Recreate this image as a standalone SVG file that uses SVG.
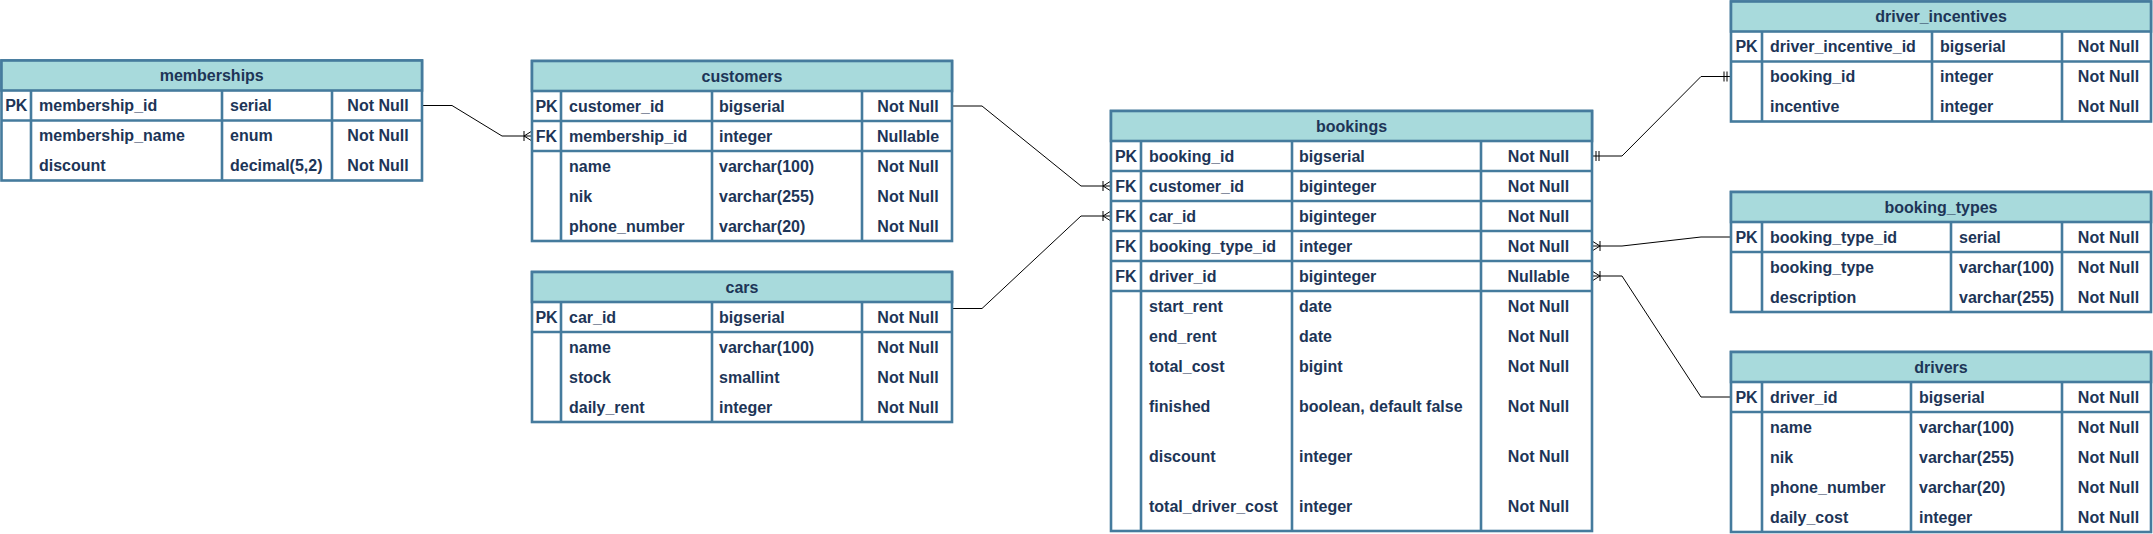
<svg xmlns="http://www.w3.org/2000/svg" width="2153" height="534" viewBox="0 0 2153 534">
<style>
.box{fill:#FFFFFF;stroke:#457B9D;stroke-width:2.6}
.hdr{fill:#A8DADC;stroke:#457B9D;stroke-width:2.6}
.ln{stroke:#457B9D;stroke-width:2.6;fill:none}
text{font-family:"Liberation Sans",Arial,sans-serif;font-weight:bold;font-size:16px;fill:#1D3557}
.c{text-anchor:middle}
.edge{fill:none;stroke:#000000;stroke-width:1}
</style>
<defs>
<marker id="oneMany" markerUnits="userSpaceOnUse" viewBox="0 0 12 12" refX="12" refY="6" markerWidth="12" markerHeight="12" orient="auto-start-reverse" overflow="visible">
<path d="M4,1V11M4,6L12,1M4,6L12,11" fill="none" stroke="#000" stroke-width="1"/>
</marker>
<marker id="mandOne" markerUnits="userSpaceOnUse" viewBox="0 0 12 12" refX="12" refY="6" markerWidth="12" markerHeight="12" orient="auto-start-reverse" overflow="visible">
<path d="M5,1V11M8,1V11" fill="none" stroke="#000" stroke-width="1"/>
</marker>
</defs>
<rect width="2153" height="534" fill="#FFFFFF"/>

<g id="connectors">
<path class="edge" d="M422,105.5H452L502,136H532" marker-end="url(#oneMany)"/>
<path class="edge" d="M952,106H982L1081,186H1111" marker-end="url(#oneMany)"/>
<path class="edge" d="M952,308.5H982L1081,216H1111" marker-end="url(#oneMany)"/>
<path class="edge" d="M1592,156H1622L1701,76.5H1731" marker-start="url(#mandOne)" marker-end="url(#mandOne)"/>
<path class="edge" d="M1592,246H1622L1701,237H1731" marker-start="url(#oneMany)"/>
<path class="edge" d="M1592,276H1622L1701,397H1731" marker-start="url(#oneMany)"/>
</g>

<g id="memberships">
<rect class="box" x="1.5" y="60.5" width="420.5" height="120"/>
<rect class="hdr" x="1.5" y="60.5" width="420.5" height="30"/>
<path class="ln" d="M1.5,120.5H422M31,90.5V180.5M222,90.5V180.5M332,90.5V180.5"/>
<text class="c" x="211.75" y="81">memberships</text>
<text class="c" x="16.25" y="111">PK</text>
<text x="39" y="111">membership_id</text>
<text x="230" y="111">serial</text>
<text class="c" x="378" y="111">Not Null</text>
<text x="39" y="141">membership_name</text>
<text x="230" y="141">enum</text>
<text class="c" x="378" y="141">Not Null</text>
<text x="39" y="171">discount</text>
<text x="230" y="171">decimal(5,2)</text>
<text class="c" x="378" y="171">Not Null</text>
</g>

<g id="customers">
<rect class="box" x="532" y="61" width="420" height="180"/>
<rect class="hdr" x="532" y="61" width="420" height="30"/>
<path class="ln" d="M532,121H952M532,151H952M561,91V241M712,91V241M862,91V241"/>
<text class="c" x="742" y="81.5">customers</text>
<text class="c" x="546.5" y="111.5">PK</text>
<text x="569" y="111.5">customer_id</text>
<text x="719" y="111.5">bigserial</text>
<text class="c" x="908" y="111.5">Not Null</text>
<text class="c" x="546.5" y="141.5">FK</text>
<text x="569" y="141.5">membership_id</text>
<text x="719" y="141.5">integer</text>
<text class="c" x="908" y="141.5">Nullable</text>
<text x="569" y="171.5">name</text>
<text x="719" y="171.5">varchar(100)</text>
<text class="c" x="908" y="171.5">Not Null</text>
<text x="569" y="201.5">nik</text>
<text x="719" y="201.5">varchar(255)</text>
<text class="c" x="908" y="201.5">Not Null</text>
<text x="569" y="231.5">phone_number</text>
<text x="719" y="231.5">varchar(20)</text>
<text class="c" x="908" y="231.5">Not Null</text>
</g>

<g id="cars">
<rect class="box" x="532" y="272" width="420" height="150"/>
<rect class="hdr" x="532" y="272" width="420" height="30"/>
<path class="ln" d="M532,332H952M561,302V422M712,302V422M862,302V422"/>
<text class="c" x="742" y="292.5">cars</text>
<text class="c" x="546.5" y="322.5">PK</text>
<text x="569" y="322.5">car_id</text>
<text x="719" y="322.5">bigserial</text>
<text class="c" x="908" y="322.5">Not Null</text>
<text x="569" y="352.5">name</text>
<text x="719" y="352.5">varchar(100)</text>
<text class="c" x="908" y="352.5">Not Null</text>
<text x="569" y="382.5">stock</text>
<text x="719" y="382.5">smallint</text>
<text class="c" x="908" y="382.5">Not Null</text>
<text x="569" y="412.5">daily_rent</text>
<text x="719" y="412.5">integer</text>
<text class="c" x="908" y="412.5">Not Null</text>
</g>

<g id="bookings">
<rect class="box" x="1111" y="111" width="481" height="420"/>
<rect class="hdr" x="1111" y="111" width="481" height="30"/>
<path class="ln" d="M1111,171H1592M1111,201H1592M1111,231H1592M1111,261H1592M1111,291H1592M1141,141V531M1292,141V531M1481,141V531"/>
<text class="c" x="1351.5" y="131.5">bookings</text>
<text class="c" x="1126" y="161.5">PK</text>
<text x="1149" y="161.5">booking_id</text>
<text x="1299" y="161.5">bigserial</text>
<text class="c" x="1538.5" y="161.5">Not Null</text>
<text class="c" x="1126" y="191.5">FK</text>
<text x="1149" y="191.5">customer_id</text>
<text x="1299" y="191.5">biginteger</text>
<text class="c" x="1538.5" y="191.5">Not Null</text>
<text class="c" x="1126" y="221.5">FK</text>
<text x="1149" y="221.5">car_id</text>
<text x="1299" y="221.5">biginteger</text>
<text class="c" x="1538.5" y="221.5">Not Null</text>
<text class="c" x="1126" y="251.5">FK</text>
<text x="1149" y="251.5">booking_type_id</text>
<text x="1299" y="251.5">integer</text>
<text class="c" x="1538.5" y="251.5">Not Null</text>
<text class="c" x="1126" y="281.5">FK</text>
<text x="1149" y="281.5">driver_id</text>
<text x="1299" y="281.5">biginteger</text>
<text class="c" x="1538.5" y="281.5">Nullable</text>
<text x="1149" y="311.5">start_rent</text>
<text x="1299" y="311.5">date</text>
<text class="c" x="1538.5" y="311.5">Not Null</text>
<text x="1149" y="341.5">end_rent</text>
<text x="1299" y="341.5">date</text>
<text class="c" x="1538.5" y="341.5">Not Null</text>
<text x="1149" y="371.5">total_cost</text>
<text x="1299" y="371.5">bigint</text>
<text class="c" x="1538.5" y="371.5">Not Null</text>
<text x="1149" y="411.5">finished</text>
<text x="1299" y="411.5">boolean, default false</text>
<text class="c" x="1538.5" y="411.5">Not Null</text>
<text x="1149" y="461.5">discount</text>
<text x="1299" y="461.5">integer</text>
<text class="c" x="1538.5" y="461.5">Not Null</text>
<text x="1149" y="511.5">total_driver_cost</text>
<text x="1299" y="511.5">integer</text>
<text class="c" x="1538.5" y="511.5">Not Null</text>
</g>

<g id="driver_incentives">
<rect class="box" x="1731" y="1.5" width="420" height="120"/>
<rect class="hdr" x="1731" y="1.5" width="420" height="30"/>
<path class="ln" d="M1731,61.5H2151M1762,31.5V121.5M1932,31.5V121.5M2062,31.5V121.5"/>
<text class="c" x="1941" y="22">driver_incentives</text>
<text class="c" x="1746.5" y="52">PK</text>
<text x="1770" y="52">driver_incentive_id</text>
<text x="1940" y="52">bigserial</text>
<text class="c" x="2108.5" y="52">Not Null</text>
<text x="1770" y="82">booking_id</text>
<text x="1940" y="82">integer</text>
<text class="c" x="2108.5" y="82">Not Null</text>
<text x="1770" y="112">incentive</text>
<text x="1940" y="112">integer</text>
<text class="c" x="2108.5" y="112">Not Null</text>
</g>

<g id="booking_types">
<rect class="box" x="1731" y="192" width="420" height="120"/>
<rect class="hdr" x="1731" y="192" width="420" height="30"/>
<path class="ln" d="M1731,252H2151M1762,222V312M1951,222V312M2062,222V312"/>
<text class="c" x="1941" y="212.5">booking_types</text>
<text class="c" x="1746.5" y="242.5">PK</text>
<text x="1770" y="242.5">booking_type_id</text>
<text x="1959" y="242.5">serial</text>
<text class="c" x="2108.5" y="242.5">Not Null</text>
<text x="1770" y="272.5">booking_type</text>
<text x="1959" y="272.5">varchar(100)</text>
<text class="c" x="2108.5" y="272.5">Not Null</text>
<text x="1770" y="302.5">description</text>
<text x="1959" y="302.5">varchar(255)</text>
<text class="c" x="2108.5" y="302.5">Not Null</text>
</g>

<g id="drivers">
<rect class="box" x="1731" y="352" width="420" height="180"/>
<rect class="hdr" x="1731" y="352" width="420" height="30"/>
<path class="ln" d="M1731,412H2151M1762,382V532M1911,382V532M2062,382V532"/>
<text class="c" x="1941" y="372.5">drivers</text>
<text class="c" x="1746.5" y="402.5">PK</text>
<text x="1770" y="402.5">driver_id</text>
<text x="1919" y="402.5">bigserial</text>
<text class="c" x="2108.5" y="402.5">Not Null</text>
<text x="1770" y="432.5">name</text>
<text x="1919" y="432.5">varchar(100)</text>
<text class="c" x="2108.5" y="432.5">Not Null</text>
<text x="1770" y="462.5">nik</text>
<text x="1919" y="462.5">varchar(255)</text>
<text class="c" x="2108.5" y="462.5">Not Null</text>
<text x="1770" y="492.5">phone_number</text>
<text x="1919" y="492.5">varchar(20)</text>
<text class="c" x="2108.5" y="492.5">Not Null</text>
<text x="1770" y="522.5">daily_cost</text>
<text x="1919" y="522.5">integer</text>
<text class="c" x="2108.5" y="522.5">Not Null</text>
</g>
</svg>
